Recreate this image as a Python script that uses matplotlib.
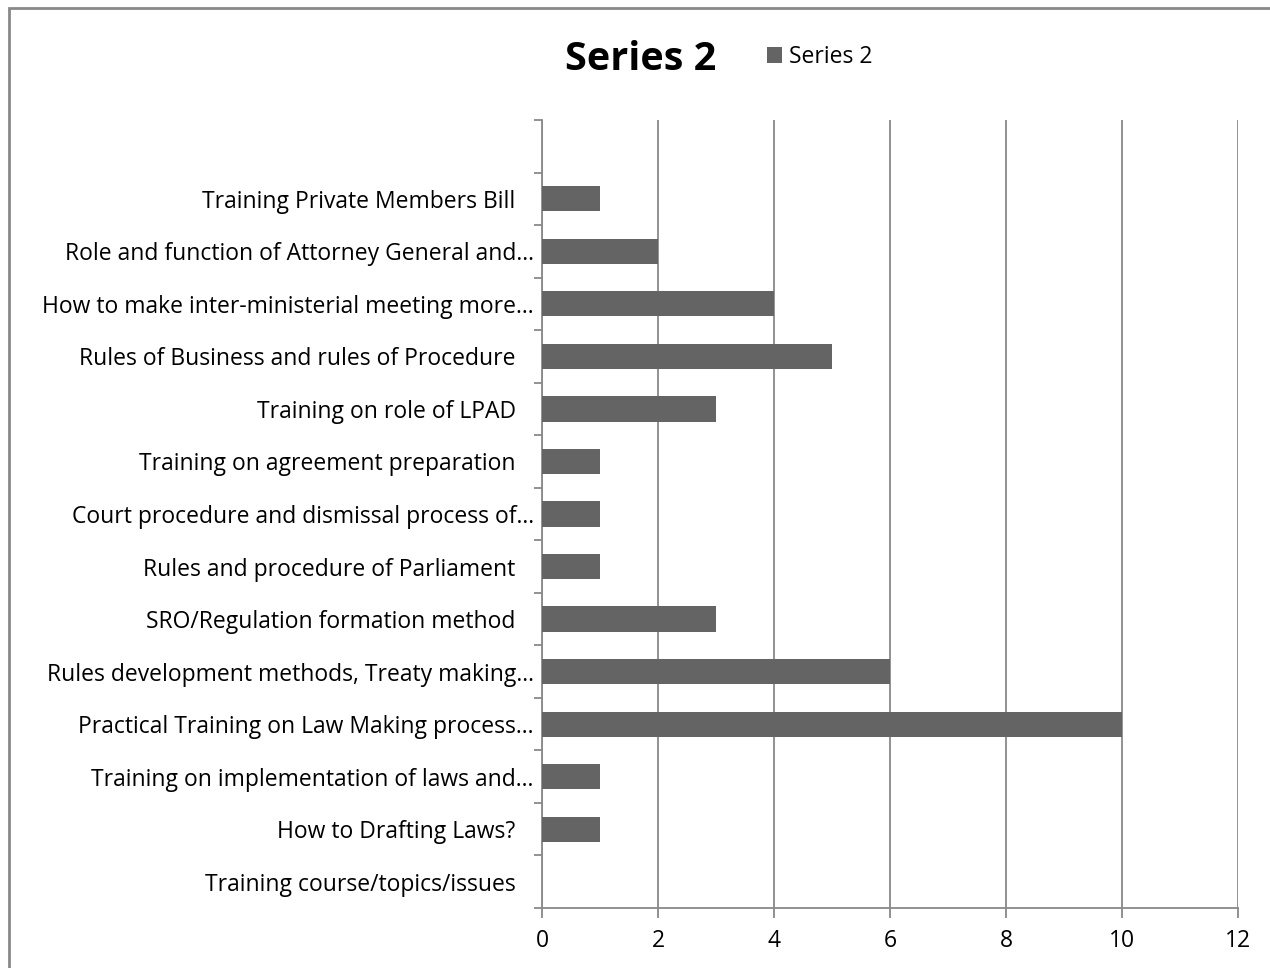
import numpy as np
import matplotlib.pyplot as plt
from matplotlib.patches import Rectangle

# categories, bottom to top (top slot has no label)
categories = ["Training course/topics/issues   ",
              "How to Drafting Laws?   ",
              "Training on implementation of laws and\u2026",
              "Practical Training on Law Making process\u2026",
              "Rules development methods, Treaty making\u2026",
              "SRO/Regulation formation method   ",
              "Rules and procedure of Parliament   ",
              "Court procedure and dismissal process of\u2026",
              "Training on agreement preparation   ",
              "Training on role of LPAD   ",
              "Rules of Business and rules of Procedure   ",
              "How to make inter-ministerial meeting more\u2026",
              "Role and function of Attorney General and\u2026",
              "Training Private Members Bill   ",
              ""]
values = [0, 1, 1, 10, 6, 3, 1, 1, 1, 3, 5, 4, 2, 1, 0]
xticks = [0, 2, 4, 6, 8, 10, 12]

plt.rcParams['font.family'] = ['Open Sans', 'DejaVu Sans']

fig = plt.figure(figsize=(12.7, 9.68), dpi=100)
ax = fig.add_axes([542/1270, 1-908/968, 696/1270, 788/968])

gray = "#898989"
bar_col = "#646464"

y = np.arange(len(categories))
ax.barh(y, values, height=0.48, color=bar_col, zorder=3)

ax.set_xlim(0, 12)
ax.set_ylim(-0.5, len(categories)-0.5)
ax.set_xticks(xticks)
ax.set_xticklabels([str(v) for v in xticks], fontsize=16.5)
ax.set_yticks(y)
ax.set_yticklabels(categories, fontsize=16.5)
ax.set_yticks(np.arange(-0.5, len(categories), 1.0), minor=True)
ax.tick_params(axis="y", which="major", length=0, pad=6)
ax.tick_params(axis="y", which="minor", length=6, color=gray, width=1.3)
ax.tick_params(axis="x", length=7, color=gray, width=1.3, pad=8)

ax.grid(axis="x", color=gray, linewidth=1.3, zorder=0)
for s in ["top", "right"]:
    ax.spines[s].set_visible(False)
for s in ["left", "bottom"]:
    ax.spines[s].set_color(gray)
    ax.spines[s].set_linewidth(1.3)

fig.text(641/1270, 1-60/968, "Series 2", fontsize=28.5, fontweight="bold",
         ha="center", va="center")
ax.legend(["Series 2"], loc="center", bbox_to_anchor=(820/1270, 1-57/968),
          bbox_transform=fig.transFigure, frameon=False, fontsize=16.5,
          handlelength=0.65, handleheight=0.65, handletextpad=0.3)

# outer chart frame
fig.patches.append(Rectangle((8.5/1270, -0.01), 1.1, 1-7.5/968+0.01,
                             transform=fig.transFigure, fill=False,
                             edgecolor=gray, linewidth=2))

fig.savefig("out.png", dpi=100)
